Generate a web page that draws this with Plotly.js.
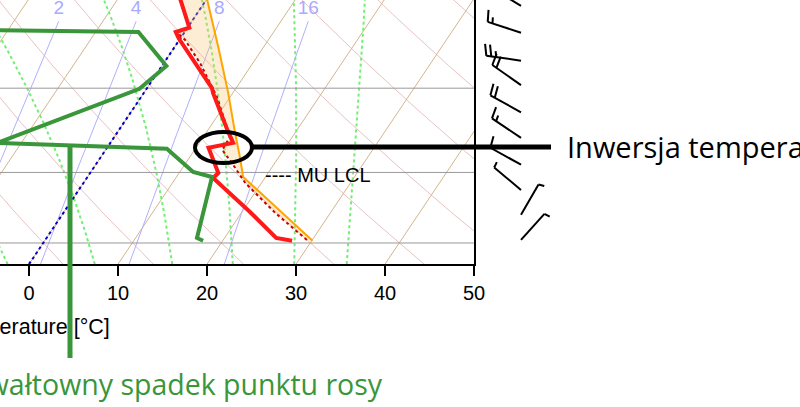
<!DOCTYPE html>
<html><head><meta charset="utf-8">
<script src="https://cdn.plot.ly/plotly-3.0.1.min.js"></script>
<style>html,body{margin:0;padding:0;overflow:hidden;background:#fff}#chart{width:800px;height:407px}</style>
</head><body><div id="chart"></div>
<script>
// ---------------- data ----------------
const tempP = [995, 988.5, 931, 861, 851, 803, 794, 771, 708, 700, 624, 615, 609, 571, 550];
const tempT = [27.8, 25.8, 20.9, 14.2, 14.4, 11.4, 13.8, 12.2, 7.8, 7.3, -0.2, -1.0, 0.2, -2.9, -4.7];
const dewP = [995, 988.5, 859, 849, 805, 794, 701, 665, 615, 611, 550];
const dewT = [17.8, 16.9, 14.0, 11.5, 6.8, -12.7, -0.8, 0.5, -5.2, -30, -35];
const virtP = [993, 933, 871, 832, 807, 783, 714, 661, 626, 616];
const virtT = [29.4, 23.8, 18.2, 15.2, 13.1, 13.0, 8.5, 4.1, 0.6, -0.8];
const parcelP = [995, 859, 816, 771, 708, 638, 571, 550];
const parcelT = [30.1, 17.5, 15.4, 13.0, 9.5, 5.0, 0.1, -1.6];
const windP = [993, 937, 885, 835, 785, 740, 695, 657, 616, 579];
const windDir = [42, 30, 310, 299, 304, 299, 305, 278, 288, 301];
const windKt = [5, 5, 5, 10, 15, 20, 20, 25, 15, 20];
const mixRatios = [2, 4, 8, 16];
const mixLabels = ['2', '4', '8', '16'];
const isobars = [1000, 850, 700];
const isotherms = [-40, -30, -20, -10, 0, 10, 20, 30, 40, 50];
const dryThetas = [-30, -20, -10, 0, 10, 20, 30, 40, 50, 60, 70, 80, 90, 100, 110];
const moistStarts = [-2.4, 7.4, 16.1, 22.9, 29.8, 35.7];
const xTicks = [0, 10, 20, 30, 40, 50];

// ---------------- skew-T geometry ----------------
const P0 = 1050, SKEW = 32.7, PBOT = 1049.6, PTOP = 571.3;
const PX_PER_LN = 264 / Math.log(PBOT / PTOP);
function skewX(T, p) { return T + SKEW * Math.log(P0 / p); }
function esat(Tc) { return 6.112 * Math.exp(17.67 * Tc / (Tc + 243.5)); }
function tdFromW(w, p) { const e = w * p / (622 + w); const l = Math.log(e / 6.112); return 243.5 * l / (17.67 - l); }
function lapse(TK, p) {
  const es = esat(TK - 273.15), rs = 0.622 * es / (p - es);
  return (287.04 * TK + 2.501e6 * rs) / (1005.7 + 2.501e6 * 2.501e6 * rs * 0.622 / (287.04 * TK * TK)) / p;
}
const pGrid = []; for (let p = 1050; p >= 550; p -= 5) pGrid.push(p);

function multi(list) { const x = [], y = []; list.forEach(s => { x.push(...s[0], null); y.push(...s[1], null); }); return [x, y]; }

const dry = multi(dryThetas.map(th => [pGrid.map(p => skewX((th + 273.15) * Math.pow(p / 1000, 0.2857) - 273.15, p)), pGrid]));
const iso = multi(isotherms.map(t => [[skewX(t, 1050), skewX(t, 550)], [1050, 550]]));
const mixP = pGrid.filter(p => p >= 600);
const mix = multi(mixRatios.map(w => [mixP.map(p => skewX(tdFromW(w, p), p)), mixP]));
const moist = multi(moistStarts.map(t0 => {
  let T = t0 + 273.15, p = P0; const xs = [skewX(t0, p)], ys = [p]; const dp = -2;
  while (p > 548) { const k1 = lapse(T, p); const k2 = lapse(T + k1 * dp, p + dp); T += 0.5 * (k1 + k2) * dp; p += dp; xs.push(skewX(T - 273.15, p)); ys.push(p); }
  return [xs, ys];
}));
const isoP = multi(isobars.map(p => [[-10, 60], [p, p]]));

// CAPE fill polygon
const topRed = tempP.map((p, i) => [p, tempT[i]]).filter(a => a[0] < virtP[virtP.length - 1]).reverse();
const fillX = [], fillY = [];
parcelP.forEach((p, i) => { fillX.push(skewX(parcelT[i], p)); fillY.push(p); });
topRed.forEach(a => { fillX.push(skewX(a[1], a[0])); fillY.push(a[0]); });
for (let i = virtP.length - 1; i >= 0; i--) { fillX.push(skewX(virtT[i], virtP[i])); fillY.push(virtP[i]); }

// wind barbs
const BX = 521, STAFF = 35, FULL = 12, HALF = 6, GAP = 5;
const bx = [], by = [];
windP.forEach((pb, i) => {
  const a = windDir[i] * Math.PI / 180;
  const d = [Math.sin(a), -Math.cos(a)];
  const pr = [Math.cos(a), Math.sin(a)];
  let f = [pr[0] + 0.25 * d[0], pr[1] + 0.25 * d[1]]; const n = Math.hypot(f[0], f[1]); f = [f[0] / n, f[1] / n];
  const pt = (ox, oy) => [BX + ox, pb * Math.exp(oy / PX_PER_LN)];
  const seg = (a1, a2) => { const q1 = pt(a1[0], a1[1]), q2 = pt(a2[0], a2[1]); bx.push(q1[0], q2[0], null); by.push(q1[1], q2[1], null); };
  seg([0, 0], [STAFF * d[0], STAFF * d[1]]);
  let spd = windKt[i], pos = STAFF;
  const nFull = Math.floor(spd / 10), nHalf = Math.round((spd - nFull * 10) / 5);
  for (let k = 0; k < nFull; k++) { const s = [pos * d[0], pos * d[1]]; seg(s, [s[0] + FULL * f[0], s[1] + FULL * f[1]]); pos -= GAP; }
  for (let k = 0; k < nHalf; k++) { const s = [pos * d[0], pos * d[1]]; seg(s, [s[0] + HALF * f[0], s[1] + HALF * f[1]]); pos -= GAP; }
});

const L = { xaxis: 'x', yaxis: 'y', hoverinfo: 'skip', showlegend: false };
const traces = [
  Object.assign({ x: dry[0], y: dry[1], mode: 'lines', line: { color: '#e9c2c2', width: 1 } }, L),
  Object.assign({ x: iso[0], y: iso[1], mode: 'lines', line: { color: '#d4b48c', width: 1 } }, L),
  Object.assign({ x: mix[0], y: mix[1], mode: 'lines', line: { color: '#b0b0ff', width: 1 } }, L),
  Object.assign({ x: moist[0], y: moist[1], mode: 'lines', line: { color: '#70f070', width: 2, dash: 'dot' } }, L),
  Object.assign({ x: isoP[0], y: isoP[1], mode: 'lines', line: { color: '#999999', width: 1 } }, L),
  Object.assign({ x: [skewX(0, 1050), skewX(0, 550)], y: [1050, 550], mode: 'lines', line: { color: '#0000cc', width: 2, dash: 'dot' } }, L),
  Object.assign({ x: fillX, y: fillY, mode: 'lines', fill: 'toself', fillcolor: 'rgba(250,200,120,0.32)', line: { width: 0 } }, L),
  Object.assign({ x: parcelP.map((p, i) => skewX(parcelT[i], p)), y: parcelP, mode: 'lines', line: { color: '#ffa500', width: 2 } }, L),
  Object.assign({ x: virtP.map((p, i) => skewX(virtT[i], p)), y: virtP, mode: 'lines', line: { color: '#cc0000', width: 2, dash: 'dot' } }, L),
  Object.assign({ x: tempP.map((p, i) => skewX(tempT[i], p)), y: tempP, mode: 'lines', line: { color: '#ff1a1a', width: 4 } }, L),
  Object.assign({ x: dewP.map((p, i) => skewX(dewT[i], p)), y: dewP, mode: 'lines', line: { color: '#3a963a', width: 4 } }, L),
  Object.assign({ x: mixRatios.map(w => skewX(tdFromW(w, 600), 600)), y: mixRatios.map(() => 583), mode: 'text', text: mixLabels,
    textfont: { family: 'Liberation Sans, Arial, sans-serif', size: 19, color: '#aaaaff' }, cliponaxis: false }, L),
  { x: bx, y: by, xaxis: 'x2', yaxis: 'y2', mode: 'lines', line: { color: '#000000', width: 2 }, hoverinfo: 'skip', showlegend: false }
];

const W = 800, H = 264;
const px = v => v / W, py = v => 1 - v / H;
const layout = {
  width: 800, height: 407, margin: { l: 0, r: 0, t: 0, b: 143 },
  paper_bgcolor: '#ffffff', plot_bgcolor: '#ffffff', showlegend: false,
  xaxis: { domain: [0, 474 / 800], range: [-29 / 8.9, 50], showgrid: false, zeroline: false, showline: true, linecolor: '#000', linewidth: 2,
    ticks: 'outside', ticklen: 10, tickwidth: 2, tickcolor: '#000', tickvals: xTicks, ticktext: xTicks.map(String),
    tickfont: { family: 'Liberation Sans, Arial, sans-serif', size: 20, color: '#000' }, anchor: 'y', fixedrange: true },
  yaxis: { type: 'log', range: [Math.log10(PBOT), Math.log10(PTOP)], side: 'right', showline: true, linecolor: '#000', linewidth: 2,
    showgrid: false, zeroline: false, ticks: '', showticklabels: false, anchor: 'x', fixedrange: true },
  xaxis2: { domain: [474 / 800, 1], range: [474, 800], visible: false, anchor: 'y2', fixedrange: true },
  yaxis2: { type: 'log', range: [Math.log10(PBOT), Math.log10(PTOP)], visible: false, anchor: 'x2', fixedrange: true },
  shapes: [
    { type: 'circle', xref: 'paper', yref: 'paper', x0: px(195), x1: px(252), y0: py(163), y1: py(132), line: { color: '#000', width: 4 } },
    { type: 'line', xref: 'paper', yref: 'paper', x0: px(251), x1: px(551), y0: py(147), y1: py(147), line: { color: '#000', width: 5 } },
    { type: 'line', xref: 'paper', yref: 'paper', x0: px(70), x1: px(70), y0: py(145), y1: py(358), line: { color: '#3a963a', width: 5 } }
  ],
  annotations: [
    { xref: 'paper', yref: 'paper', x: px(112), y: py(327), xanchor: 'right', yanchor: 'middle', showarrow: false, text: 'Temperature [°C]',
      font: { family: 'Liberation Sans, Arial, sans-serif', size: 21.5, color: '#000' } },
    { xref: 'paper', yref: 'paper', x: px(263), y: py(175), xanchor: 'left', yanchor: 'middle', showarrow: false, text: '---- MU LCL',
      font: { family: 'Liberation Sans, Arial, sans-serif', size: 20, color: '#000' } },
    { xref: 'paper', yref: 'paper', x: px(565), y: py(146), xanchor: 'left', yanchor: 'middle', showarrow: false, text: 'Inwersja temperatury',
      font: { family: 'Open Sans, Noto Sans, sans-serif', size: 29, color: '#000' } },
    { xref: 'paper', yref: 'paper', x: px(-36), y: py(384), xanchor: 'left', yanchor: 'middle', showarrow: false, text: 'Gwałtowny spadek punktu rosy',
      font: { family: 'Open Sans, Noto Sans, sans-serif', size: 28.5, color: '#3a963a' } }
  ]
};
Plotly.newPlot('chart', traces, layout, { staticPlot: true, displayModeBar: false });
</script></body></html>
